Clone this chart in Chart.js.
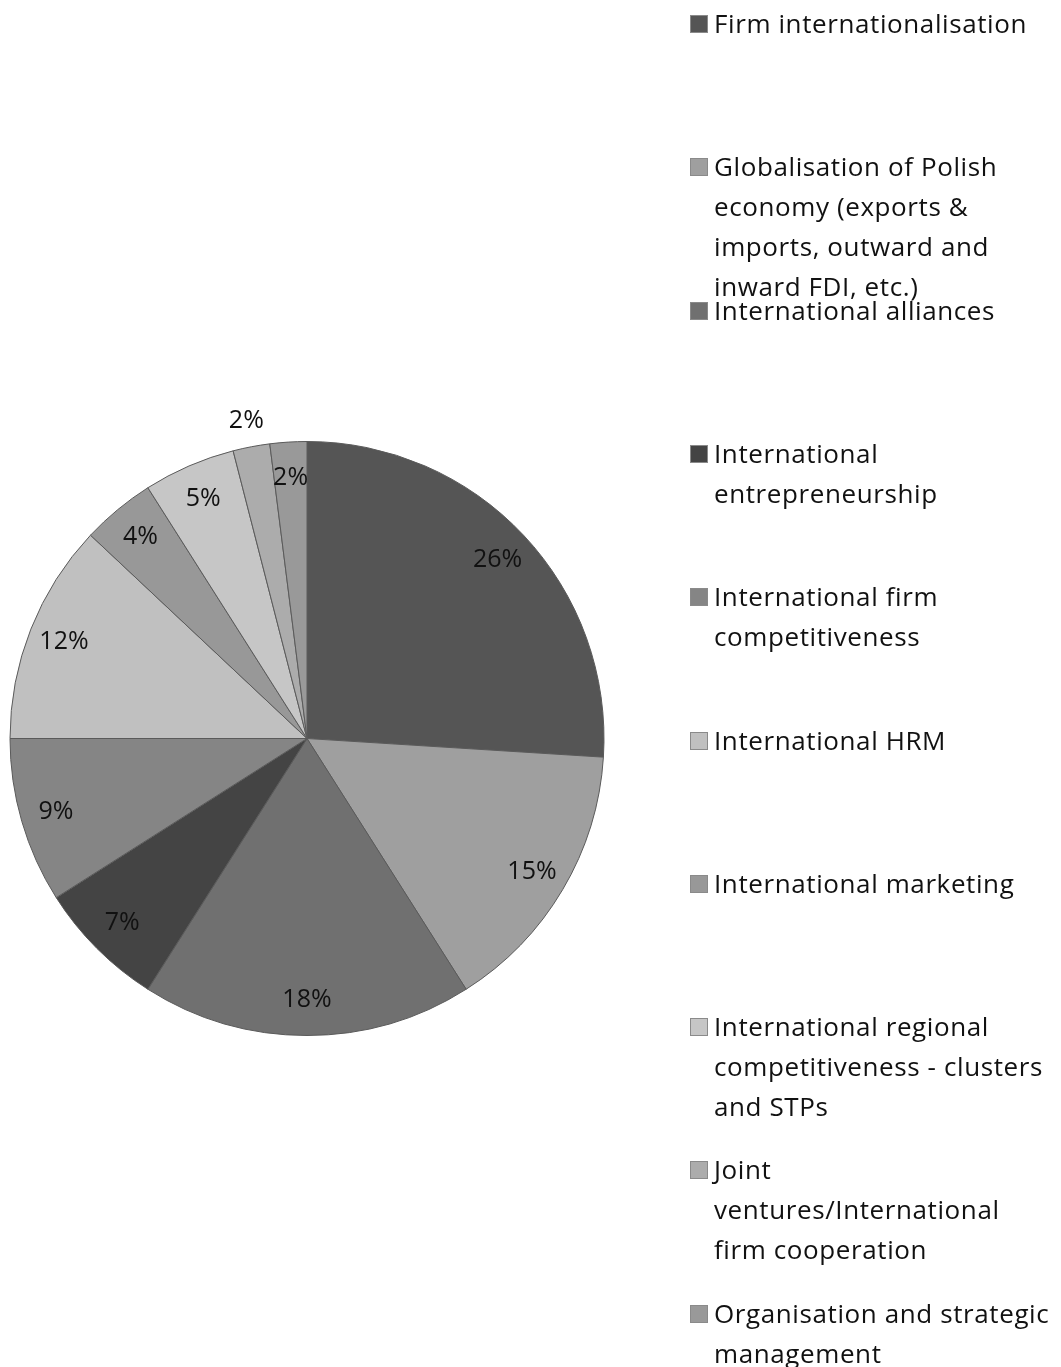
<!DOCTYPE html>
<html>
<head>
<meta charset="utf-8">
<script src="https://cdn.jsdelivr.net/npm/chart.js@4"></script>
<style>
  body { margin: 0; background: #fff; }
  #wrap { position: relative; width: 1061px; height: 1367px; }
  #legend { position: absolute; left: 0; top: 0; font-family: "Open Sans", sans-serif; font-size: 26px; letter-spacing: 0.6px; color: #111; }
  .item { position: absolute; left: 690px; }
  .box { position: absolute; left: 0; top: 12px; width: 18px; height: 18px; border: 1px solid #8a8a8a; box-sizing: border-box; }
  .txt { position: absolute; left: 24px; white-space: nowrap; line-height: 40px; }
</style>
</head>
<body>
<div id="wrap">
  <canvas id="pie" width="1061" height="1367"></canvas>
  <div id="legend"></div>
</div>
<script>
const categories = [
    ["Firm internationalisation"],
    ["Globalisation of Polish", "economy (exports &", "imports, outward and", "inward FDI, etc.)"],
    ["International alliances"],
    ["International", "entrepreneurship"],
    ["International firm", "competitiveness"],
    ["International HRM"],
    ["International marketing"],
    ["International regional", "competitiveness - clusters", "and STPs"],
    ["Joint", "ventures/International", "firm cooperation"],
    ["Organisation and strategic", "management"],
];
const shares = [26, 15, 18, 7, 9, 12, 4, 5, 2, 2];
const colors = [
    "#555555", "#9f9f9f", "#707070", "#444444", "#858585",
    "#c0c0c0", "#989898", "#c6c6c6", "#acacac", "#999999",
];

// labels that sit outside the pie
const outsideLabels = [8];

const sliceLabels = {
    id: "sliceLabels",
    afterDatasetsDraw(chart) {
        const ctx = chart.ctx;
        const arcs = chart.getDatasetMeta(0).data;
        ctx.save();
        ctx.font = "25px 'Open Sans', sans-serif";
        ctx.fillStyle = "#111";
        ctx.textAlign = "center";
        ctx.textBaseline = "middle";
        arcs.forEach((arc, i) => {
            const mid = (arc.startAngle + arc.endAngle) / 2;
            const r = arc.outerRadius * (outsideLabels.includes(i) ? 1.09 : 0.88);
            const x = arc.x + Math.cos(mid) * r;
            const y = arc.y + Math.sin(mid) * r;
            ctx.fillText(shares[i] + "%", x, y);
        });
        ctx.restore();
    },
};

function buildLegend() {
    const legend = document.getElementById("legend");
    categories.forEach((lines, i) => {
        const item = document.createElement("div");
        item.className = "item";
        item.style.top = (3 + i * 143.3) + "px";
        const box = document.createElement("div");
        box.className = "box";
        box.style.background = colors[i];
        const txt = document.createElement("div");
        txt.className = "txt";
        txt.innerHTML = lines.join("<br>");
        item.appendChild(box);
        item.appendChild(txt);
        legend.appendChild(item);
    });
}

function renderPie() {
    const ctx = document.getElementById("pie").getContext("2d");
    new Chart(ctx, {
        type: "pie",
        data: {
            labels: categories,
            datasets: [
                {
                    data: shares,
                    backgroundColor: colors,
                    borderColor: "#5a5a5a",
                    borderWidth: 1,
                },
            ],
        },
        options: {
            responsive: false,
            animation: false,
            layout: {
                padding: { left: 9, right: 456, top: 441, bottom: 331 },
            },
            plugins: {
                legend: { display: false },
                tooltip: { enabled: false },
            },
        },
        plugins: [sliceLabels],
    });
    buildLegend();
}

document.addEventListener("DOMContentLoaded", renderPie);
</script>
</body>
</html>
